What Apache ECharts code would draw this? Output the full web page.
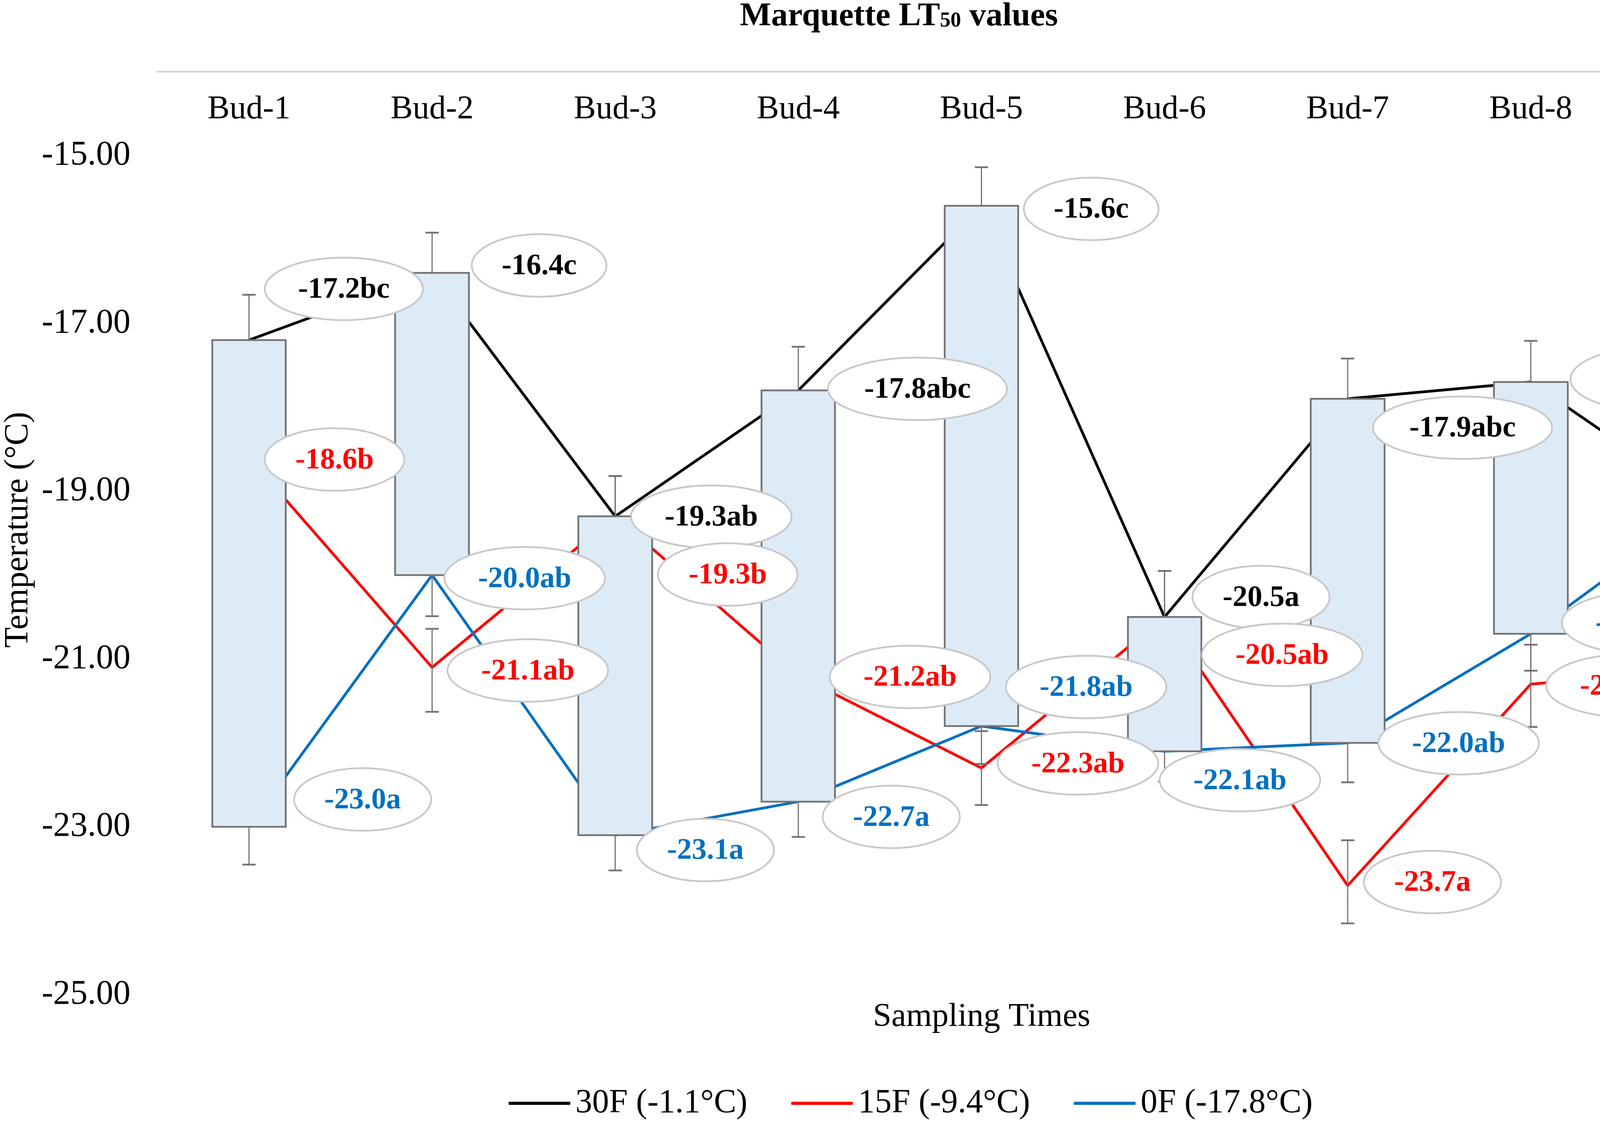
<!DOCTYPE html>
<html>
<head>
<meta charset="utf-8">
<script src="https://cdn.jsdelivr.net/npm/echarts@6/dist/echarts.min.js"></script>
<style>
html,body{margin:0;padding:0;background:#ffffff;}
#chart{width:4724px;height:2877px;}
</style>
</head>
<body>
<div id="chart"></div>
<script>
// ---------------- data ----------------
const categories = ['Bud-1','Bud-2','Bud-3','Bud-4','Bud-5','Bud-6','Bud-7','Bud-8','Bud-9'];
const seriesNames = ['30F (-1.1°C)','15F (-9.4°C)','0F (-17.8°C)'];

const lt30F = [-17.2,-16.4,-19.3,-17.8,-15.6,-20.5,-17.9,-17.7,-19.2];
const lt15F = [-18.6,-21.1,-19.3,-21.2,-22.3,-20.5,-23.7,-21.3,-21.1];
const lt0F  = [-23.0,-20.0,-23.1,-22.7,-21.8,-22.1,-22.0,-20.7,-19.1];

const letters30F = ['bc','c','ab','abc','c','a','abc','bc','ab'];
const letters15F = ['b','ab','b','ab','ab','ab','a','ab','ab'];
const letters0F  = ['a','ab','a','a','ab','ab','ab','ab','b'];

const errPlus30F  = [0.54,0.48,0.48,0.52,0.46,0.55,0.48,0.49,0.49];
const errMinus30F = [0.54,0.48,0.48,0.52,0.46,0.55,0.48,0.49,0.49];
const errPlus15F  = [0.45,0.46,0.48,0.45,0.44,0.55,0.54,0.47,1.42];
const errMinus15F = [0.45,0.53,0.45,0.45,0.44,0.45,0.45,0.51,0.45];
const errPlus0F   = [0.45,0.49,0.42,0.42,0.45,0.36,0.47,0.44,0.46];
const errMinus0F  = [0.45,0.49,0.42,0.42,0.45,0.36,0.47,0.44,0.46];

const yTickLabels = [-25,-23,-21,-19,-17,-15];

// ---------------- layout / style (pixels) ----------------
const labelOffset30F = [[243,-131],[274,-19],[246,1],[305,-4],[281,8],[247,-51],[294,74],[304,-7],[117,4]];
const labelOffset15F = [[219,5],[245,8],[288,149],[286,3],[247,-12],[301,97],[217,-9],[245,4],[117,-9]];
const labelOffset0F  = [[291,-70],[237,8],[231,38],[238,39],[268,-100],[193,74],[284,1],[285,-28],[144,-109]];

const FONT = '"Liberation Serif", "Times New Roman", serif';
const colors = ['#000000','#FF0000','#0070C0'];
const LABEL_FONT = 'bold 76px "Liberation Serif"';

const measureCtx = document.createElement('canvas').getContext('2d');
function textWidth(t){ measureCtx.font = LABEL_FONT; return measureCtx.measureText(t).width; }

function errorBarItem(plus, minus){
  return function(params, api){
    const i = params.dataIndex;
    const xi = api.value(0), v = api.value(1);
    const c = api.coord([xi, v]);
    const t = api.coord([xi, v + plus[i]]);
    const b = api.coord([xi, v - minus[i]]);
    const hw = 17;
    const col = '#767171';
    return {type:'group', children:[
      {type:'line', shape:{x1:c[0],y1:t[1],x2:c[0],y2:b[1]}, style:{stroke:col,lineWidth:3}},
      {type:'line', shape:{x1:c[0]-hw,y1:t[1],x2:c[0]+hw,y2:t[1]}, style:{stroke:col,lineWidth:4.5}},
      {type:'line', shape:{x1:c[0]-hw,y1:b[1],x2:c[0]+hw,y2:b[1]}, style:{stroke:col,lineWidth:4.5}}
    ]};
  };
}

function labelItem(values, letters, offsets, color){
  return function(params, api){
    const i = params.dataIndex;
    const p = api.coord([api.value(0), api.value(1)]);
    const text = values[i].toFixed(1) + letters[i];
    const tw = textWidth(text);
    const cx = p[0] + offsets[i][0], cy = p[1] + offsets[i][1];
    return {type:'group', children:[
      {type:'ellipse', shape:{cx:cx, cy:cy, rx:(tw+52)/Math.SQRT2, ry:80},
        style:{fill:'#ffffff', stroke:'#C8C8C8', lineWidth:4.5}},
      {type:'text', x:cx, y:cy+3, style:{text:text, fill:color, font:LABEL_FONT,
        align:'center', verticalAlign:'middle', textAlign:'center', textVerticalAlign:'middle'}}
    ]};
  };
}

const pts = arr => arr.map((v,i)=>[i,v]);

const chart = echarts.init(document.getElementById('chart'), null, {renderer:'canvas'});

const option = {
  animation:false,
  backgroundColor:'#ffffff',
  textStyle:{fontFamily:FONT},
  title:{
    text:'{m|Marquette LT}{s|50}{m| values}',
    left:1889, top:0,
    textStyle:{
      rich:{
        m:{fontFamily:FONT, fontWeight:'bold', fontSize:85, lineHeight:76, color:'#000'},
        s:{fontFamily:FONT, fontWeight:'bold', fontSize:54, lineHeight:16, verticalAlign:'bottom', color:'#000'}
      }
    }
  },
  grid:{left:403, right:102, top:183, bottom:331, containLabel:false, outerBoundsMode:'none'},
  legend:{
    data:seriesNames,
    left:1297, top:2776,
    icon:'roundRect',
    itemWidth:158, itemHeight:8, itemGap:112,
    textStyle:{fontFamily:FONT, fontSize:86, color:'#000', padding:[0,0,0,8]}
  },
  xAxis:{
    type:'category', data:categories, position:'top',
    axisLine:{show:true, lineStyle:{color:'#D9D9D9', width:5}},
    axisTick:{show:false},
    axisLabel:{inside:true, margin:55, fontFamily:FONT, fontSize:85, color:'#000'},
    splitLine:{show:false}
  },
  yAxis:{
    type:'value', min:-25, max:-14, interval:1,
    axisLine:{show:false}, axisTick:{show:false}, splitLine:{show:false},
    axisLabel:{
      margin:69, fontFamily:FONT, fontSize:88, color:'#000',
      formatter:function(v){ return yTickLabels.indexOf(Math.round(v))>=0 ? v.toFixed(2) : ''; }
    }
  },
  graphic:[
    {type:'text', x:47, y:1356, rotation:Math.PI/2,
      style:{text:'Temperature (°C)', font:'86px "Liberation Serif"', fill:'#000',
        align:'center', verticalAlign:'middle', textAlign:'center', textVerticalAlign:'middle'}},
    {type:'text', x:2513, y:2604,
      style:{text:'Sampling Times', font:'85px "Liberation Serif"', fill:'#000',
        align:'center', verticalAlign:'middle', textAlign:'center', textVerticalAlign:'middle'}}
  ],
  series:[
    {name:seriesNames[0], type:'line', data:lt30F, symbol:'none', z:2,
      lineStyle:{color:colors[0], width:7}, itemStyle:{color:colors[0]}},
    {name:seriesNames[1], type:'line', data:lt15F, symbol:'none', z:2,
      lineStyle:{color:colors[1], width:7}, itemStyle:{color:colors[1]}},
    {name:seriesNames[2], type:'line', data:lt0F, symbol:'none', z:2,
      lineStyle:{color:colors[2], width:7}, itemStyle:{color:colors[2]}},
    {name:'err30', type:'custom', z:3, clip:false, data:pts(lt30F), encode:{x:0,y:1}, renderItem:errorBarItem(errPlus30F, errMinus30F)},
    {name:'err15', type:'custom', z:3, clip:false, data:pts(lt15F), encode:{x:0,y:1}, renderItem:errorBarItem(errPlus15F, errMinus15F)},
    {name:'err0', type:'custom', z:3, clip:false, data:pts(lt0F), encode:{x:0,y:1}, renderItem:errorBarItem(errPlus0F, errMinus0F)},
    {name:'updown', type:'candlestick', z:4, barWidth:189,
      data:lt30F.map((b,i)=>[b, lt0F[i], Math.min(b,lt0F[i]), Math.max(b,lt0F[i])]),
      itemStyle:{color:'#DDEBF7', color0:'#DDEBF7', borderColor:'#767171', borderColor0:'#767171', borderWidth:4.5}},
    {name:'lab0', type:'custom', z:5, clip:false, data:pts(lt0F), encode:{x:0,y:1},
      renderItem:labelItem(lt0F, letters0F, labelOffset0F, colors[2])},
    {name:'lab30', type:'custom', z:6, clip:false, data:pts(lt30F), encode:{x:0,y:1},
      renderItem:labelItem(lt30F, letters30F, labelOffset30F, colors[0])},
    {name:'lab15', type:'custom', z:7, clip:false, data:pts(lt15F), encode:{x:0,y:1},
      renderItem:labelItem(lt15F, letters15F, labelOffset15F, colors[1])}
  ]
};
chart.setOption(option);
</script>
</body>
</html>
